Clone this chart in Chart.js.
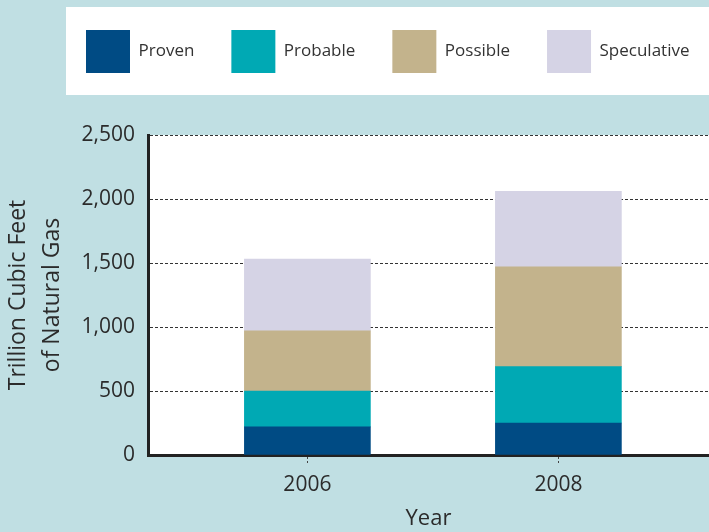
<!DOCTYPE html>
<html lang="en">
<head>
<meta charset="UTF-8">
<title>Natural Gas Resources</title>
<script src="https://cdn.jsdelivr.net/npm/chart.js"></script>
<style>
  body { margin: 0; padding: 0; background: #c0dfe3; }
  #chart-container { position: relative; width: 709px; height: 532px; }
</style>
</head>
<body>
<div id="chart-container"><canvas id="gasChart"></canvas></div>
<script>
// Resource estimates, trillion cubic feet
const years = ['2006', '2008'];
const proven = [220, 250];
const probable = [280, 440];
const possible = [470, 780];
const speculative = [560, 590];
const yTicks = [0, 500, 1000, 1500, 2000, 2500];

const BG = '#c0dfe3';
const INK = '#2b2b2b';

Chart.defaults.font.family = '"Open Sans", sans-serif';
Chart.defaults.color = INK;

function series(values) {
    return years.map((y, i) => ({ x: Number(y), y: values[i] }));
}

// Paint the page background, the white plot area and the white legend panel
const panels = {
    id: 'panels',
    beforeDraw(chart) {
        const { ctx, chartArea } = chart;
        ctx.save();
        ctx.fillStyle = BG;
        ctx.fillRect(0, 0, chart.width, chart.height);
        ctx.fillStyle = '#ffffff';
        ctx.fillRect(66, 7, chart.width - 66, 88);
        ctx.fillRect(chartArea.left, chartArea.top, chartArea.right - chartArea.left, chartArea.bottom - chartArea.top);
        ctx.restore();
    }
};

// Nudge the legend into its panel once the layout is done
const legendShift = {
    id: 'legendShift',
    afterLayout(chart) {
        const lg = chart.legend;
        lg.left += 49; lg.right += 49;
        lg.top -= 52; lg.bottom -= 52;
    }
};

const ctx = document.getElementById('gasChart').getContext('2d');
const gasChart = new Chart(ctx, {
    type: 'bar',
    data: {
        datasets: [
            { label: 'Proven', data: series(proven), backgroundColor: '#004b84' },
            { label: 'Probable', data: series(probable), backgroundColor: '#00a9b4' },
            { label: 'Possible', data: series(possible), backgroundColor: '#c3b38c' },
            { label: 'Speculative', data: series(speculative), backgroundColor: '#d5d3e5' }
        ]
    },
    plugins: [panels, legendShift],
    options: {
        responsive: true,
        maintainAspectRatio: false,
        animation: false,
        locale: 'en-US',
        layout: { padding: { top: 45, left: 0, right: 0, bottom: 0 } },
        datasets: { bar: { barThickness: 126 } },
        plugins: {
            tooltip: { enabled: false },
            legend: {
                position: 'top',
                align: 'start',
                labels: {
                    boxWidth: 44,
                    boxHeight: 43,
                    padding: 37,
                    color: '#333333',
                    font: { size: 17 }
                }
            }
        },
        scales: {
            x: {
                type: 'linear',
                stacked: true,
                offset: false,
                min: 2004.73,
                max: 2009.2,
                afterBuildTicks(scale) {
                    scale.ticks = years.map(y => ({ value: Number(y) }));
                },
                afterFit(scale) { scale.height = 77; },
                ticks: {
                    callback: v => String(v),
                    padding: 7,
                    font: { size: 21 },
                    color: INK
                },
                grid: {
                    offset: false,
                    drawOnChartArea: false,
                    drawTicks: true,
                    tickLength: 10,
                    tickColor: '#444444',
                    tickBorderDash: [2, 2]
                },
                border: { color: '#222222', width: 3 },
                title: {
                    display: true,
                    text: 'Year',
                    font: { size: 22 },
                    color: INK,
                    padding: { top: 0, bottom: 0 }
                }
            },
            y: {
                stacked: true,
                min: yTicks[0],
                max: yTicks[yTicks.length - 1],
                afterBuildTicks(scale) {
                    scale.ticks = yTicks.map(v => ({ value: v }));
                },
                afterFit(scale) { scale.width = 148; },
                ticks: {
                    padding: 13,
                    font: { size: 21 },
                    color: INK
                },
                grid: {
                    color: '#333333',
                    lineWidth: 1,
                    drawTicks: false
                },
                border: { color: '#222222', width: 3, dash: [3, 2] },
                title: {
                    display: true,
                    text: ['Trillion Cubic Feet', 'of Natural Gas'],
                    font: { size: 23, lineHeight: 1.5 },
                    color: INK,
                    padding: { top: 1, bottom: 0 }
                }
            }
        }
    }
});
</script>
</body>
</html>
